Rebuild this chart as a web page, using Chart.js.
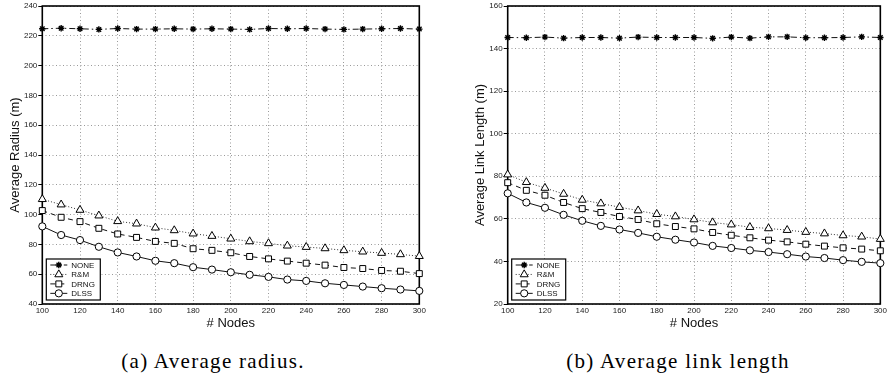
<!DOCTYPE html>
<html><head><meta charset="utf-8">
<script src="https://cdn.jsdelivr.net/npm/chart.js@4/dist/chart.umd.min.js"></script>
<style>
html,body{margin:0;padding:0;background:#fff;width:889px;height:386px;overflow:hidden;position:relative}
canvas{position:absolute;top:0}
#ca{left:0}
#cb{left:445px}
.cap{position:absolute;font-family:"Liberation Serif",serif;font-size:21px;letter-spacing:1.3px;color:#000;white-space:nowrap;transform:translateX(-50%);top:349px;line-height:24px}
</style></head><body>
<canvas id="ca" width="445" height="334"></canvas>
<canvas id="cb" width="444" height="334"></canvas>
<div class="cap" id="capA" style="left:213px">(a) Average radius.</div>
<div class="cap" id="capB" style="left:678px">(b) Average link length</div>
<script>
const nodes = [100,110,120,130,140,150,160,170,180,190,200,210,220,230,240,250,260,270,280,290,300];
const seriesNames = ['NONE','R&M','DRNG','DLSS'];

// (a) Average radius (m)
const radiusNONE = [224.7,225.1,224.7,224.3,224.9,224.5,224.5,224.7,224.5,224.7,224.5,224.3,224.9,224.7,224.9,224.5,224.3,224.5,224.7,224.9,224.5];
const radiusRM   = [110.3,106.7,103.1,99.3,95.5,93.9,91.2,89.4,87.2,85.6,83.8,82.0,80.7,79.1,78.2,77.3,76.0,75.1,74.2,73.3,72.1];
const radiusDRNG = [102.7,98.2,95.3,90.8,87.0,84.7,82.0,80.7,77.1,76.0,74.4,71.9,70.3,68.8,67.4,66.1,64.5,63.8,62.5,62.0,60.4];
const radiusDLSS = [92.1,86.3,82.9,78.4,74.6,71.9,69.0,67.4,64.7,63.1,61.3,59.6,58.2,56.4,55.5,53.9,52.8,51.7,50.6,49.7,48.8];

// (b) Average link length (m)
const linkNONE = [145.2,145.1,145.4,144.9,145.2,145.2,144.9,145.4,145.2,145.2,145.2,144.8,145.4,144.9,145.5,145.5,145.1,145.1,145.2,145.5,145.2];
const linkRM   = [80.8,77.2,74.5,71.7,68.9,67.2,65.5,63.9,62.2,61.1,59.7,58.3,57.3,56.1,55.5,54.7,53.8,53.1,52.2,51.6,50.5];
const linkDRNG = [77.0,73.4,71.1,67.7,64.8,63.0,61.1,59.7,57.7,56.4,55.3,53.6,52.3,51.1,50.0,49.2,48.1,47.2,46.4,45.8,45.0];
const linkDLSS = [72.0,67.7,65.2,61.9,59.1,56.7,55.0,53.4,51.6,50.2,48.9,47.3,46.3,45.2,44.4,43.4,42.3,41.6,40.6,39.8,39.2];

const xTitle = '# Nodes';
const yTitleA = 'Average Radius (m)';
const yTitleB = 'Average Link Length (m)';

const SANS = '"Liberation Sans", Arial, sans-serif';
const styles = [
  {pointStyle:'star', pointRadius:3.2, pointBorderWidth:1.4, pointBackgroundColor:'#000', borderColor:'#111', borderDash:[6,3,1.5,3]},
  {pointStyle:'triangle', pointRadius:4.6, pointBorderWidth:1, pointBackgroundColor:'#fff', borderColor:'#333', borderDash:[1,2]},
  {pointStyle:'rect', pointRadius:4.2, pointBorderWidth:1, pointBackgroundColor:'#fff', borderColor:'#111', borderDash:[5,4]},
  {pointStyle:'circle', pointRadius:3.6, pointBorderWidth:1, pointBackgroundColor:'#fff', borderColor:'#111', borderDash:[]}
];

function buildDatasets(arrs){
  return arrs.map((vals,i)=>Object.assign({
    label: seriesNames[i],
    data: nodes.map((n,j)=>({x:n, y:vals[j]})),
    borderWidth:1,
    pointBorderColor:'#000',
    tension:0,
    fill:false,
    clip:false
  }, styles[i]));
}

const framePlugin = {
  id:'frame',
  beforeDatasetsDraw(chart){
    const a = chart.chartArea, ctx = chart.ctx;
    ctx.save();
    ctx.setLineDash([]);
    ctx.strokeStyle = '#000';
    ctx.lineWidth = 1.6;
    ctx.strokeRect(a.left, a.top, a.right - a.left, a.bottom - a.top);
    ctx.restore();
  }
};

const boxLegend = {
  id:'boxLegend',
  afterDatasetsDraw(chart){
    const a = chart.chartArea, ctx = chart.ctx;
    const x0 = a.left + 4, y0 = a.bottom - 45, w = 54, h = 41;
    ctx.save();
    ctx.setLineDash([]);
    ctx.fillStyle = '#fff';
    ctx.fillRect(x0, y0, w, h);
    ctx.strokeStyle = '#000';
    ctx.lineWidth = 1.2;
    ctx.strokeRect(x0, y0, w, h);
    chart.data.datasets.forEach((ds, i) => {
      const y = y0 + 6 + i * 9.45;
      ctx.save();
      ctx.strokeStyle = ds.borderColor;
      ctx.lineWidth = 1;
      ctx.setLineDash(ds.borderDash || []);
      ctx.beginPath();
      ctx.moveTo(x0 + 4, y);
      ctx.lineTo(x0 + 21, y);
      ctx.stroke();
      ctx.setLineDash([]);
      ctx.fillStyle = ds.pointBackgroundColor;
      ctx.strokeStyle = '#000';
      ctx.lineWidth = ds.pointBorderWidth;
      if (Chart.helpers && Chart.helpers.drawPoint) {
        Chart.helpers.drawPoint(ctx, {pointStyle: ds.pointStyle, radius: ds.pointRadius, borderWidth: ds.pointBorderWidth, rotation:0}, x0 + 12.5, y);
      }
      ctx.restore();
      ctx.fillStyle = '#111';
      ctx.font = '8px ' + SANS;
      ctx.textBaseline = 'middle';
      ctx.textAlign = 'left';
      ctx.fillText(ds.label, x0 + 25, y + 0.5);
    });
    ctx.restore();
  }
};

function makeChart(id, arrs, yMin, yMax, yTitle, yWidth, padRight, yTitlePad){
  return new Chart(document.getElementById(id), {
    type:'line',
    data:{datasets: buildDatasets(arrs)},
    plugins:[framePlugin, boxLegend],
    options:{
      responsive:false,
      animation:false,
      devicePixelRatio:1,
      events:[],
      layout:{autoPadding:false, padding:{left:0, top:6, right:padRight, bottom:0}},
      plugins:{legend:{display:false}, tooltip:{enabled:false}},
      scales:{
        x:{
          type:'linear', min:100, max:300,
          afterFit(s){ s.height = 30; },
          ticks:{stepSize:20, autoSkip:false, maxRotation:0, padding:2, color:'#222', font:{family:SANS, size:8}},
          grid:{color:'#9a9a9a', lineWidth:1, drawTicks:false},
          border:{display:false, dash:[1,2.5]},
          title:{display:true, text:xTitle, color:'#111', font:{family:SANS, size:13}, padding:{top:0, bottom:3}}
        },
        y:{
          type:'linear', min:yMin, max:yMax,
          afterFit(s){ s.width = yWidth; },
          ticks:{stepSize:20, autoSkip:false, padding:1, color:'#222', font:{family:SANS, size:8}},
          grid:{color:'#9a9a9a', lineWidth:1, drawTicks:true, tickLength:4, tickColor:'#000'},
          border:{display:false, dash:[1,2.5]},
          title:{display:true, text:yTitle, color:'#111', font:{family:SANS, size:13}, padding:{top:yTitlePad, bottom:0}}
        }
      }
    }
  });
}

makeChart('ca', [radiusNONE, radiusRM, radiusDRNG, radiusDLSS], 40, 240, yTitleA, 42.3, 25.7, 7.2);
makeChart('cb', [linkNONE, linkRM, linkDRNG, linkDLSS], 20, 160, yTitleB, 62.7, 3.3, 27.2);
</script>
</body></html>
